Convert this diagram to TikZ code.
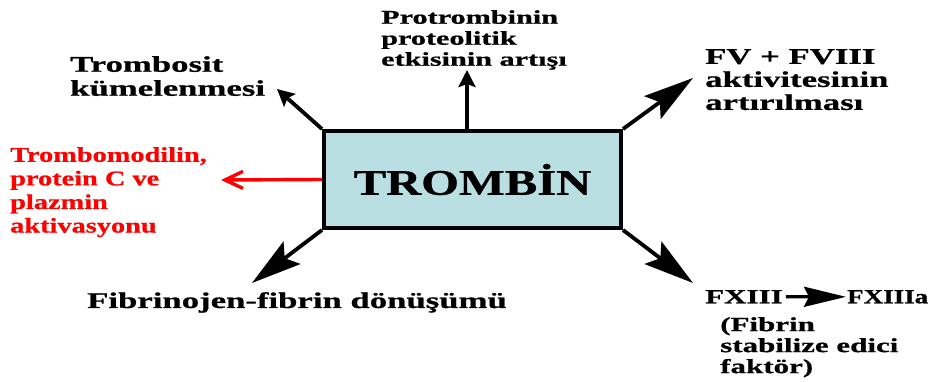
\documentclass[tikz,border=0pt]{standalone}
\usepackage{fontspec}
\usetikzlibrary{arrows.meta}
% Bold serif faces, widened and slightly heavier
\newfontfamily\wideA{Liberation Serif}[UprightFont={* Bold}, FakeStretch=1.55, FakeBold=0.8]
\newfontfamily\wideB{Liberation Serif}[UprightFont={* Bold}, FakeStretch=1.35, FakeBold=0.8]
\definecolor{boxfill}{RGB}{185,223,226}
\tikzset{
  label/.style={inner sep=0pt, anchor=north west, align=left},
  link/.style={line width=3.8pt, black},
  bighead/.style={link, -{Stealth[length=50pt, width=28pt, inset=9pt]}},
  smallhead/.style={link, -{Stealth[length=17pt, width=17pt, inset=3pt]}},
  redlink/.style={line width=3.4pt, red, -{Straight Barb[length=18pt, width=17pt]}}
}
\begin{document}
\begin{tikzpicture}[x=1pt, y=-1pt]
\useasboundingbox (0,0) rectangle (940,381);

% central box
\node[draw=black, line width=4pt, fill=boxfill, minimum width=297pt, minimum height=97pt,
      inner sep=0pt, font=\wideB\fontsize{36}{40}\selectfont] (tr) at (472.5,179.5) {TROMBİN};

% outcome labels
\node[label, font=\wideA\fontsize{19.5}{21}\selectfont] (prot) at (381,10)
  {Protrombinin\\proteolitik\\etkisinin artışı};
\node[label, font=\wideA\fontsize{22.4}{24}\selectfont] (trom) at (70,56)
  {Trombosit\\kümelenmesi};
\node[label, font=\wideA\fontsize{22.4}{23}\selectfont] (fv) at (705,49)
  {FV + FVIII\\aktivitesinin\\artırılması};
\node[label, text=red, font=\wideB\fontsize{21}{23.6}\selectfont] (tmod) at (10,147)
  {Trombomodilin,\\protein C ve\\plazmin\\aktivasyonu};
\node[label, font=\wideA\fontsize{22.4}{24}\selectfont] (fib) at (87,292)
  {Fibrinojen-fibrin dönüşümü};
\node[inner sep=0pt, anchor=north west, font=\wideA\fontsize{20}{21}\selectfont] (fx) at (705,290) {FXIII};
\node[inner sep=0pt, anchor=north west, font=\wideB\fontsize{20}{21}\selectfont] (fxa) at (847,290) {FXIIIa};
\node[label, font=\wideA\fontsize{20}{21}\selectfont] (stab) at (720,317)
  {(Fibrin\\stabilize edici\\faktör)};

% arrow ends
\coordinate (ptop) at (467,70);
\coordinate (ptl) at (277,89);
\coordinate (ptr) at (693,78);
\coordinate (pbl) at (252,283);
\coordinate (pbr) at (693,283);
\coordinate (pred) at (221,180);

% connectors
\draw[smallhead] (tr.north -| ptop) -- (ptop);
\draw[smallhead] (tr.north west) -- (ptl);
\draw[bighead] (tr.north east) -- (ptr);
\draw[bighead] (tr.south west) -- (pbl);
\draw[bighead] (tr.south east) -- (pbr);
\draw[redlink] (tr.west) -- (pred);
\draw[line width=3.2pt, -{Stealth[length=42pt, width=20pt, inset=5pt]}]
  ([xshift=3pt]fx.east) -- ([xshift=-1pt]fxa.west);
\end{tikzpicture}
\end{document}
